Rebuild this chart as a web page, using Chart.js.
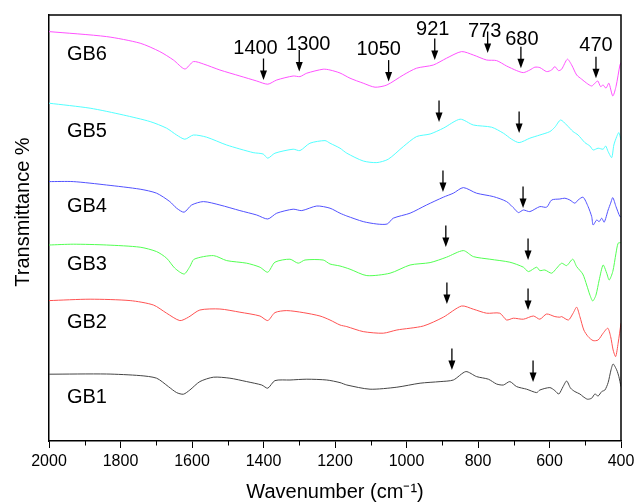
<!DOCTYPE html>
<html>
<head>
<meta charset="utf-8">
<script src="https://cdn.jsdelivr.net/npm/chart.js@4/dist/chart.umd.min.js"></script>
<style>
  html, body { margin: 0; padding: 0; background: #fff; }
</style>
</head>
<body>
<canvas id="ftir" width="635" height="503"></canvas>
<script>
// FTIR spectra of the GB samples, stacked with an offset (arbitrary units)
const gb1Wn = [2000,1839,1745,1699,1666,1643,1624,1606,1578,1540,1494,1447,1405,1388,1368,1326,1279,1223,1186,1167,1102,1027,962,906,869,834,804,771,748,729,711,692,664,636,627,599,585,574,562,552,541,529,515,506,494,482,473,464,454,445,436,428,422,412,406,400];
const gb1T = [33.4,33.5,32.7,31.4,27.2,24.2,23.4,25.5,29.7,31.9,31.4,29.7,28,26.4,30.2,30.5,30.9,30.5,29.2,28,25.9,26.9,28.9,29.7,30.5,34.7,32.2,30.9,28.5,28,29.7,27.2,25.9,24.2,25.5,26.7,25.2,23.5,27.2,30,26.4,24.7,23.5,22.2,20.9,21.4,23.5,22.5,24.7,25.5,29.2,35.5,38.5,35.5,32.2,27.2];

const gb2Wn = [2000,1885,1773,1708,1671,1634,1610,1578,1522,1466,1410,1388,1368,1335,1289,1242,1214,1186,1167,1121,1065,1027,953,897,846,813,776,739,720,701,673,645,627,608,585,571,566,547,534,524,515,504,492,478,464,450,437,429,422,415,408,400];
const gb2T = [70.2,70.9,70.2,68,63.9,60.2,61.9,65.5,66,64.4,62.5,60.2,64.2,65.2,64.2,62.5,60.5,58,57.2,54.7,53.9,55.5,57.5,61.9,67.5,65.9,63.9,63.9,60.5,61.4,60.9,62.5,60.9,63.5,62.2,61.9,62.2,60.5,63.9,66.9,62.2,55.5,52.2,50.2,50.5,53.9,56.4,52.2,45.5,42.2,48.9,58.9];

const gb3Wn = [2000,1932,1839,1745,1699,1671,1648,1622,1606,1594,1540,1503,1447,1410,1388,1368,1326,1303,1284,1233,1214,1186,1158,1111,1046,990,934,888,841,813,767,711,673,659,636,627,613,594,580,566,552,535,524,507,496,487,479,470,461,450,440,433,423,414,408,400];
const gb3T = [98,98.4,98,96.9,94.7,91.4,86.4,83.5,87.2,90.9,92.7,90.2,88.9,86.9,84.4,89.4,90.9,88.9,90.5,90.5,88.5,87.5,85.9,82.7,83.9,88,89.2,91.9,95.2,92.2,90.9,89.4,86.9,84.7,86.9,85.2,85.5,83.9,86.4,88.9,87.7,90.9,87.2,83.5,78,73,70,73,80.5,88,83.9,80.5,84.7,93.9,98.9,99.2];

const gb4Wn = [2000,1932,1839,1745,1699,1662,1643,1622,1601,1568,1522,1466,1419,1388,1363,1317,1293,1251,1214,1186,1167,1121,1083,1054,1037,990,944,897,869,841,804,757,720,697,687,673,655,627,608,594,571,557,543,529,520,506,492,482,478,468,461,454,447,436,429,423,414,403,400];
const gb4T = [129.7,129.7,128,125.9,123.9,119.7,116.4,114.4,118,119.7,118,115.2,113,111,113.9,115.9,115.2,117.5,116.4,113.9,112.5,109.7,108.5,108.5,111.4,113.9,118,121.9,123.9,126.7,123.9,122.2,119.7,115.9,114.2,115.5,114.7,117.2,116.9,120.5,121,121.4,120.5,118.9,120.5,121.9,117.2,112.2,108,110.5,109.7,111.4,109.4,115.5,118.9,121.7,117.2,112.2,112.2];

const gb5Wn = [2000,1885,1792,1717,1671,1643,1620,1596,1559,1503,1429,1401,1388,1368,1317,1298,1270,1228,1214,1186,1167,1121,1083,1051,1009,972,934,897,850,813,762,729,706,685,655,627,599,585,569,552,534,520,501,487,478,464,450,443,436,426,420,412,406,400];
const gb5T = [168.9,166.4,163,159.7,156.4,153,150.9,153,151.9,148,144.2,143.5,141.4,143.9,145.9,145.2,148.9,150.2,148.9,146.4,143.9,140,139.2,140.9,147.2,152.2,153.5,156.4,160.9,158,156.9,153.9,150.9,149.2,151.4,153,154.7,156.9,160.5,158,154.7,153,149.2,147.5,145.5,146.4,145.9,147.5,144.7,141.7,148,152.2,154.2,150.5];

const gb6Wn = [2000,1839,1745,1690,1652,1620,1596,1568,1522,1466,1419,1388,1363,1317,1298,1279,1233,1214,1186,1158,1121,1088,1055,1009,972,925,888,846,813,776,748,720,692,673,655,641,627,608,594,585,575,566,550,538,524,510,496,482,473,465,457,450,442,434,423,414,403,400];
const gb6T = [204.7,202.2,198.9,194.7,190.5,186,189.7,188.5,185.5,182.5,180,178.4,180.5,182.5,182.2,183.9,185.9,185.5,184,181.4,178.9,176.9,178,183,186.4,188,191.4,194.7,193,190.5,190.2,187.5,185.2,184.2,185.5,186.9,186.7,184.7,185.5,187.2,185.2,185.9,190.9,188,183,180.9,178.9,177.5,178.9,180,177.2,178,176.4,178.9,172.5,177.2,188,189.2];

const samples = ['GB1', 'GB2', 'GB3', 'GB4', 'GB5', 'GB6'];
const sampleColors = ['#454545', '#ff5252', '#52ff52', '#5252ff', '#52ffff', '#ff52ff'];
const sampleLabelWn = 1950;
const sampleLabelT = [19, 56.5, 85.5, 114.5, 152, 190.5];

// assigned bands marked on GB6
const bandWn = [1400, 1300, 1050, 921, 773, 680, 470];
const bandTip = [180.5, 184.7, 179.7, 190.5, 194, 186.4, 181.4];
const bandLabelDx = [-8, 9, -10, -2, -3, 1, 0];
const bandLabelRise = [26, 22, 27, 25, 16, 23, 27];

// the same bands on the other spectra (unlabelled arrows)
const shiftWn = [909, 685, 898, 674, 890, 660, 887, 660, 873, 646];
const shiftTip = [159.5, 154, 124.5, 116.5, 97, 90.5, 68.5, 65.5, 35.5, 29.5];

const minorTicks = [1900, 1700, 1500, 1300, 1100, 900, 700, 500];

const FONT = '"Liberation Sans", Arial, Helvetica, sans-serif';

const series = [[gb1Wn, gb1T], [gb2Wn, gb2T], [gb3Wn, gb3T], [gb4Wn, gb4T], [gb5Wn, gb5T], [gb6Wn, gb6T]];
const datasets = series.map(([wn, t], i) => ({
  label: samples[i],
  data: wn.map((w, k) => ({ x: w, y: t[k] })),
  borderColor: sampleColors[i],
  borderWidth: 1,
  pointRadius: 0,
  tension: 0.25,
  fill: false
}));

function drawArrow(ctx, px, tip) {
  ctx.beginPath();
  ctx.lineWidth = 1.3;
  ctx.moveTo(px, tip - 21.5);
  ctx.lineTo(px, tip - 8);
  ctx.stroke();
  ctx.beginPath();
  ctx.moveTo(px, tip);
  ctx.lineTo(px - 3.5, tip - 9.5);
  ctx.lineTo(px + 3.5, tip - 9.5);
  ctx.closePath();
  ctx.fill();
}

const decor = {
  id: 'decor',
  afterDraw(chart) {
    const { ctx, chartArea: a, scales: { x, y } } = chart;
    ctx.save();
    ctx.strokeStyle = '#000';
    ctx.fillStyle = '#000';

    // top and right edges of the frame
    ctx.lineWidth = 1.5;
    ctx.beginPath();
    ctx.moveTo(a.left, a.top);
    ctx.lineTo(a.right, a.top);
    ctx.lineTo(a.right, a.bottom);
    ctx.stroke();

    // minor ticks
    ctx.lineWidth = 1;
    ctx.beginPath();
    minorTicks.forEach(w => {
      const px = Math.round(x.getPixelForValue(w)) + 0.5;
      ctx.moveTo(px, a.bottom);
      ctx.lineTo(px, a.bottom + 4.5);
    });
    ctx.stroke();

    // band arrows and their wavenumbers
    ctx.font = '20px ' + FONT;
    ctx.textAlign = 'center';
    ctx.textBaseline = 'alphabetic';
    bandWn.forEach((w, i) => {
      const px = x.getPixelForValue(w);
      const tip = y.getPixelForValue(bandTip[i]);
      drawArrow(ctx, px, tip);
      ctx.fillText(String(w), px + bandLabelDx[i], tip - bandLabelRise[i]);
    });
    shiftWn.forEach((w, i) => {
      drawArrow(ctx, x.getPixelForValue(w), y.getPixelForValue(shiftTip[i]));
    });

    // sample names
    ctx.textAlign = 'left';
    samples.forEach((s, i) => {
      ctx.fillText(s, x.getPixelForValue(sampleLabelWn), y.getPixelForValue(sampleLabelT[i]));
    });

    // y axis title
    ctx.translate(a.left - 26, (a.top + a.bottom) / 2 - 16);
    ctx.rotate(-Math.PI / 2);
    ctx.textAlign = 'center';
    ctx.textBaseline = 'middle';
    ctx.fillText('Transmittance %', 0, 0);
    ctx.restore();
  }
};

new Chart(document.getElementById('ftir'), {
  type: 'line',
  data: { datasets },
  plugins: [decor],
  options: {
    responsive: false,
    animation: false,
    layout: { padding: { top: 15, right: 14, left: 0, bottom: 0 } },
    plugins: { legend: { display: false }, tooltip: { enabled: false } },
    scales: {
      x: {
        type: 'linear',
        reverse: true,
        min: 400,
        max: 2000,
        ticks: {
          stepSize: 200,
          color: '#000',
          font: { family: FONT, size: 16 },
          padding: 4,
          maxRotation: 0,
          autoSkip: false,
          callback: v => String(v)
        },
        grid: { drawOnChartArea: false, drawTicks: true, tickLength: 7, tickColor: '#000', tickWidth: 1 },
        border: { display: true, color: '#000', width: 1.5 },
        title: {
          display: true,
          text: 'Wavenumber (cm\u207B\u00B9)',
          color: '#000',
          font: { family: FONT, size: 20, lineHeight: 1 },
          padding: { top: 0, bottom: 1 }
        },
        afterFit: s => {
          s.height = 62;
          s.paddingLeft = 0;
          s.paddingRight = 0;
        }
      },
      y: {
        min: 0,
        max: 213,
        ticks: { display: false },
        grid: { drawOnChartArea: false, drawTicks: false },
        border: { display: true, color: '#000', width: 1.5 },
        afterFit: s => { s.width = 49; }
      }
    }
  }
});
</script>
</body>
</html>
